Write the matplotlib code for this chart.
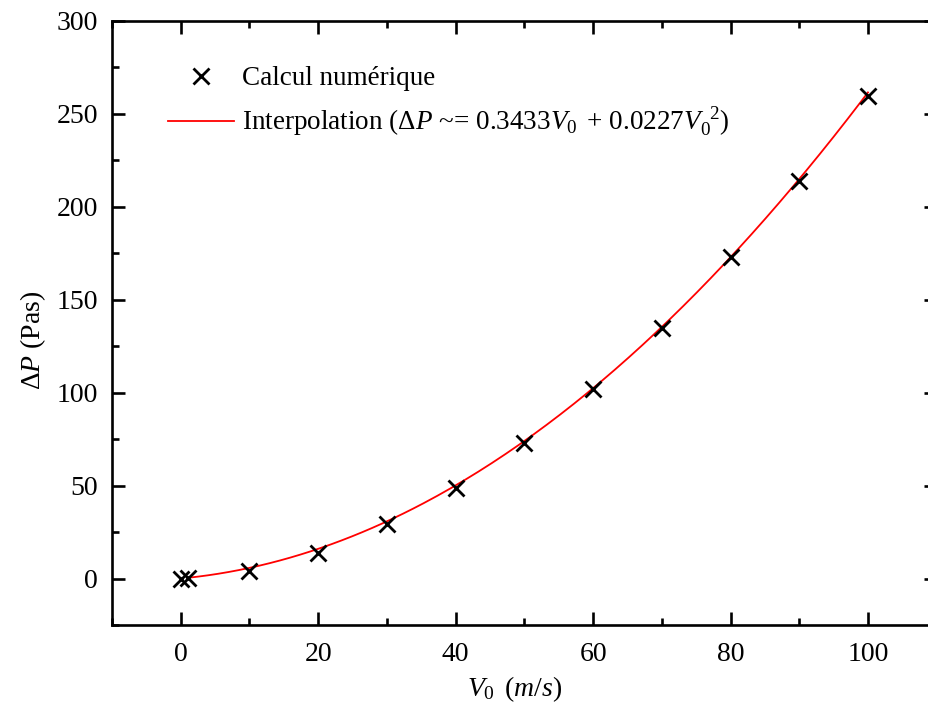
import numpy as np
import matplotlib
matplotlib.use("Agg")
import matplotlib.pyplot as plt
from matplotlib.ticker import MultipleLocator

# Simulated pressure drop versus inlet velocity
v0 = [0, 1, 10, 20, 30, 40, 50, 60, 70, 80, 90, 100]
dp = [0.0, 0.3, 4.3, 13.8, 29.4, 48.7, 72.8, 101.8, 134.9, 172.7, 213.8, 259.2]

# Quadratic fit coefficients: dP ~= a1*V0 + a2*V0^2
a1 = 0.3433
a2 = 0.0227

plt.rcParams["font.family"] = ["Liberation Serif", "DejaVu Serif"]
plt.rcParams["mathtext.fontset"] = "custom"
plt.rcParams["mathtext.rm"] = "Liberation Serif"
plt.rcParams["mathtext.it"] = "Liberation Serif:italic"
plt.rcParams["mathtext.bf"] = "Liberation Serif:bold"

FS = 20
LEG_FS = 19.5

fig = plt.figure(figsize=(9.29, 7.26), dpi=100)
ax = fig.add_axes([112 / 929, (726 - 625) / 726, (936.7 - 112) / 929, (625 - 20.5) / 726])

ax.plot(v0, dp, linestyle="none", marker="x", markersize=12, markeredgewidth=2.0,
        color="black", label="Calcul numérique", zorder=3)

v_fit = np.linspace(v0[1], v0[-1], 200)
ax.plot(v_fit, a1 * v_fit + a2 * v_fit ** 2, color="red", linewidth=1.3,
        label=r"Interpolation ($\Delta\mathit{P}$ ~= 0.3433$\mathit{V}_{\mathrm{0}}\,$"
              r" + 0.0227$\mathit{V}_{\mathrm{0}}^{\;\;\mathrm{2}}$)", zorder=2)

ax.set_xlim(-10, 110)
ax.set_ylim(-25, 300)
ax.xaxis.set_major_locator(MultipleLocator(20))
ax.xaxis.set_minor_locator(MultipleLocator(10))
ax.yaxis.set_major_locator(MultipleLocator(50))
ax.yaxis.set_minor_locator(MultipleLocator(25))

for s in ax.spines.values():
    s.set_linewidth(1.9)

ax.tick_params(which="both", direction="in", top=True, right=True, width=1.9,
               labelsize=FS)
ax.tick_params(which="major", length=9.5)
ax.tick_params(which="minor", length=5)
ax.tick_params(axis="x", which="major", pad=12)
ax.tick_params(axis="y", which="major", pad=10)

ax.set_xlabel(r"$\mathit{V}_{\mathrm{0}}\,$ $\mathit{(m/s)}$", fontsize=FS)
ax.set_ylabel(r"$\Delta\mathit{P}$ (Pas)", fontsize=FS)
ax.xaxis.set_label_coords((515 - 112) / (936.7 - 112), -(674 - 625) / (625 - 20.5))
ax.yaxis.set_label_coords(-(112 - 48) / (936.7 - 112), (625 - 340) / (625 - 20.5))

leg = ax.legend(loc="upper left", bbox_to_anchor=(168 / 929, 1 - 66 / 726),
                bbox_transform=fig.transFigure, frameon=False, fontsize=LEG_FS,
                handlelength=2.45, handletextpad=0.3, labelspacing=0.55,
                borderpad=0, borderaxespad=0)

fig.savefig("out.png", dpi=100)
